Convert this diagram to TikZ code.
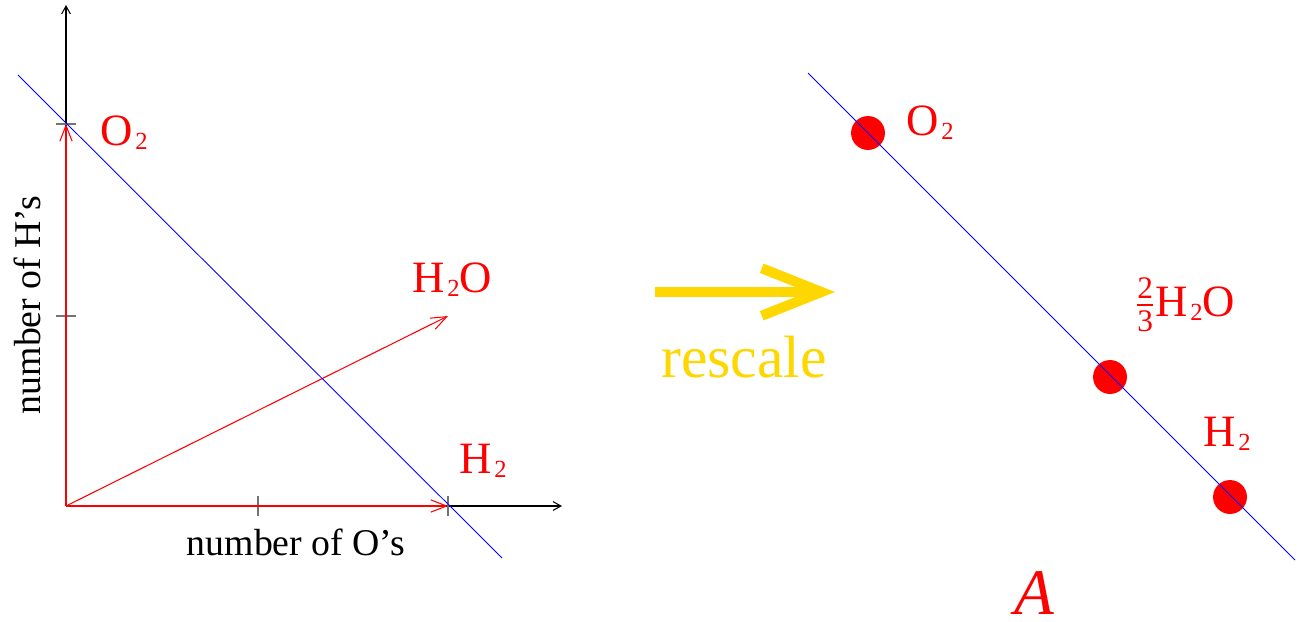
\documentclass[tikz,border=0pt]{standalone}
\usepackage{amsmath}
\usepackage{fontspec}
\setmainfont{Liberation Serif}
\usetikzlibrary{arrows.meta}
\definecolor{tickgray}{gray}{0.45}
\definecolor{rescalegold}{RGB}{255,215,0}
\newcommand{\chemsub}[1]{\kern1.5pt\raisebox{-2.5pt}{\fontsize{14}{16}\selectfont #1}}

\begin{document}
\begin{tikzpicture}[x=0.02cm, y=-0.02cm,
    axis/.style={-{Straight Barb[length=4.5pt, width=5pt]}, line width=0.6pt},
    vec/.style={-{Straight Barb[length=9pt, width=7pt]}, red, line width=0.6pt},
    mixline/.style={blue, line width=0.5pt},
    chem/.style={red, anchor=base west, inner sep=0pt, font=\fontsize{25.5}{30}\selectfont},
    axlabel/.style={anchor=base, inner sep=0pt, font=\fontsize{21.5}{26}\selectfont},
    dot/.style={circle, fill=red, inner sep=0pt, minimum size=19.3pt}]
    \useasboundingbox (0,0) rectangle (1302,622);

    % Left: the plane of compositions
    \coordinate (origin) at (66,506);
    \coordinate (xend) at (562,506);
    \coordinate (yend) at (66,5);
    \coordinate (h2) at (448,506);
    \coordinate (o2) at (66,124);
    \coordinate (h2o) at (448,316);
    \coordinate (lineL1) at (18,75);
    \coordinate (lineL2) at (502,558);

    % Draw Axes
    \draw[axis] (origin) -- (xend);
    \draw[axis] (origin) -- (yend);

    % Add ticks
    \foreach \x in {258,448} \draw[tickgray, line width=0.6pt] (\x,496) -- (\x,516);
    \foreach \y in {316,124} \draw[tickgray, line width=0.6pt] (56,\y) -- (76,\y);

    % Molecule vectors
    \draw[vec] (origin) -- (o2);
    \draw[vec] (origin) -- (h2);
    \draw[vec] (origin) -- (h2o);
    \draw[mixline] (lineL1) -- (lineL2);

    \node[chem] (lblO2) at (100,145) {O\chemsub{2}};
    \node[chem] (lblH2O) at (412,292) {H\chemsub{2}O};
    \node[chem] (lblH2) at (459,473) {H\chemsub{2}};
    \node[axlabel] (xlab) at (296,555) {number of O's};
    \node[axlabel, rotate=90] (ylab) at (40,305) {number of H's};

    % Middle: rescale arrow
    \coordinate (rsA) at (655,292);
    \coordinate (rsB) at (835,292);
    \draw[rescalegold, line width=5.7pt, -{Straight Barb[length=34pt, width=27pt]}] (rsA) -- (rsB);
    \node[rescalegold, anchor=base, inner sep=0pt, font=\fontsize{34}{40}\selectfont] (rescale) at (744,377) {rescale};

    % Right: the rescaled line A
    \node[dot] (dO2) at (868,133) {};
    \node[dot] (dH2O) at (1110,377) {};
    \node[dot] (dH2) at (1230,497) {};
    \coordinate (lineR1) at (808,73);
    \coordinate (lineR2) at (1295,560);
    \draw[mixline] (lineR1) -- (lineR2);

    \node[chem] (rO2) at (906,135) {O\chemsub{2}};
    \node[chem] (rH2O) at (1135,316) {$\tfrac{\text{2}}{\text{3}}$H\chemsub{2}O};
    \node[chem] (rH2) at (1203,446) {H\chemsub{2}};
    \node[red, anchor=base, inner sep=0pt, font=\itshape\fontsize{37}{44}\selectfont] (setA) at (1034,614) {A};
\end{tikzpicture}
\end{document}
